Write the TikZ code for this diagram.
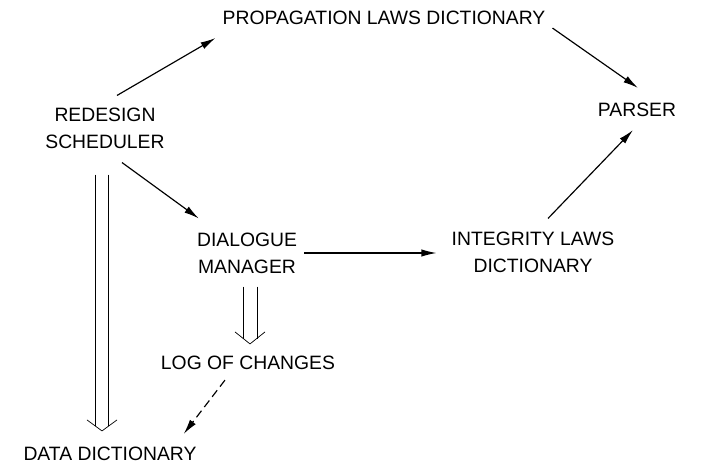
\documentclass[tikz,border=0pt]{standalone}
\usepackage{fontspec}
\setmainfont{Liberation Sans}
\usepackage{tikz}
\usetikzlibrary{arrows.meta,calc}

\begin{document}
\begin{tikzpicture}[x=0.03cm,y=-0.03cm,
    lbl/.style={align=center,inner sep=0pt,font=\fontsize{16.5}{23}\selectfont},
    arrow/.style={-{Latex[length=4.5mm,width=2.2mm]},line width=1pt},
    rail/.style={line width=0.6pt},
    vee/.style={line width=0.6pt,line join=miter}]
  \useasboundingbox (0,0) rectangle (716,465);
  \node[lbl] (prop) at (384,18) {PROPAGATION LAWS DICTIONARY};
  \node[lbl] (rs) at (105,128) {REDESIGN\\SCHEDULER};
  \node[lbl] (parser) at (637,110) {PARSER};
  \node[lbl] (dm) at (247,253) {DIALOGUE\\MANAGER};
  \node[lbl] (ild) at (533,252) {INTEGRITY LAWS\\DICTIONARY};
  \node[lbl] (log) at (248,363) {LOG OF CHANGES};
  \node[lbl] (dd) at (110,454) {DATA DICTIONARY};
  % single arrows
  \draw[arrow] ($(rs.north)+(12,-12)$) -- ($(prop.south west)+(-7,13)$);
  \draw[arrow] ($(prop.south east)+(7,3)$) -- ($(parser.north)+(1,-15)$);
  \draw[arrow] ($(ild.north)+(15,-13)$) -- ($(parser.south)+(-4,13)$);
  \draw[arrow] ($(rs.south)+(17,14)$) -- ($(dm.north west)+(2,-14)$);
  \draw[arrow] ($(dm.east)+(7,0)$) -- ($(ild.west)+(-15,1)$);
  \draw[arrow,dash pattern=on 7pt off 4pt] ($(log.south)+(-23,10)$) -- ($(dd.north east)+(-13,-13)$);
  % double arrows
  \coordinate (rstail) at ($(rs.south)+(-3.5,26)$);
  \coordinate (ddtip) at ($(dd.north)+(-8,-16)$);
  \coordinate (ddend) at ($(ddtip)+(0,-5)$);
  \foreach \dx in {-6.5,6.5}
    \draw[rail] ($(rstail)+(\dx,0)$) -- ($(rstail |- ddend)+(\dx,0)$);
  \draw[vee] ($(ddtip)+(-15,-11)$) -- (ddtip) -- ($(ddtip)+(15,-11)$);
  \coordinate (dmtail) at ($(dm.south)+(3,13)$);
  \coordinate (logtip) at ($(log.north)+(2,-12)$);
  \coordinate (logend) at ($(logtip)+(0,-5)$);
  \foreach \dx in {-7,7}
    \draw[rail] ($(dmtail)+(\dx,0)$) -- ($(dmtail |- logend)+(\dx,0)$);
  \draw[vee] ($(logtip)+(-15,-12)$) -- (logtip) -- ($(logtip)+(15,-12)$);
\end{tikzpicture}
\end{document}
